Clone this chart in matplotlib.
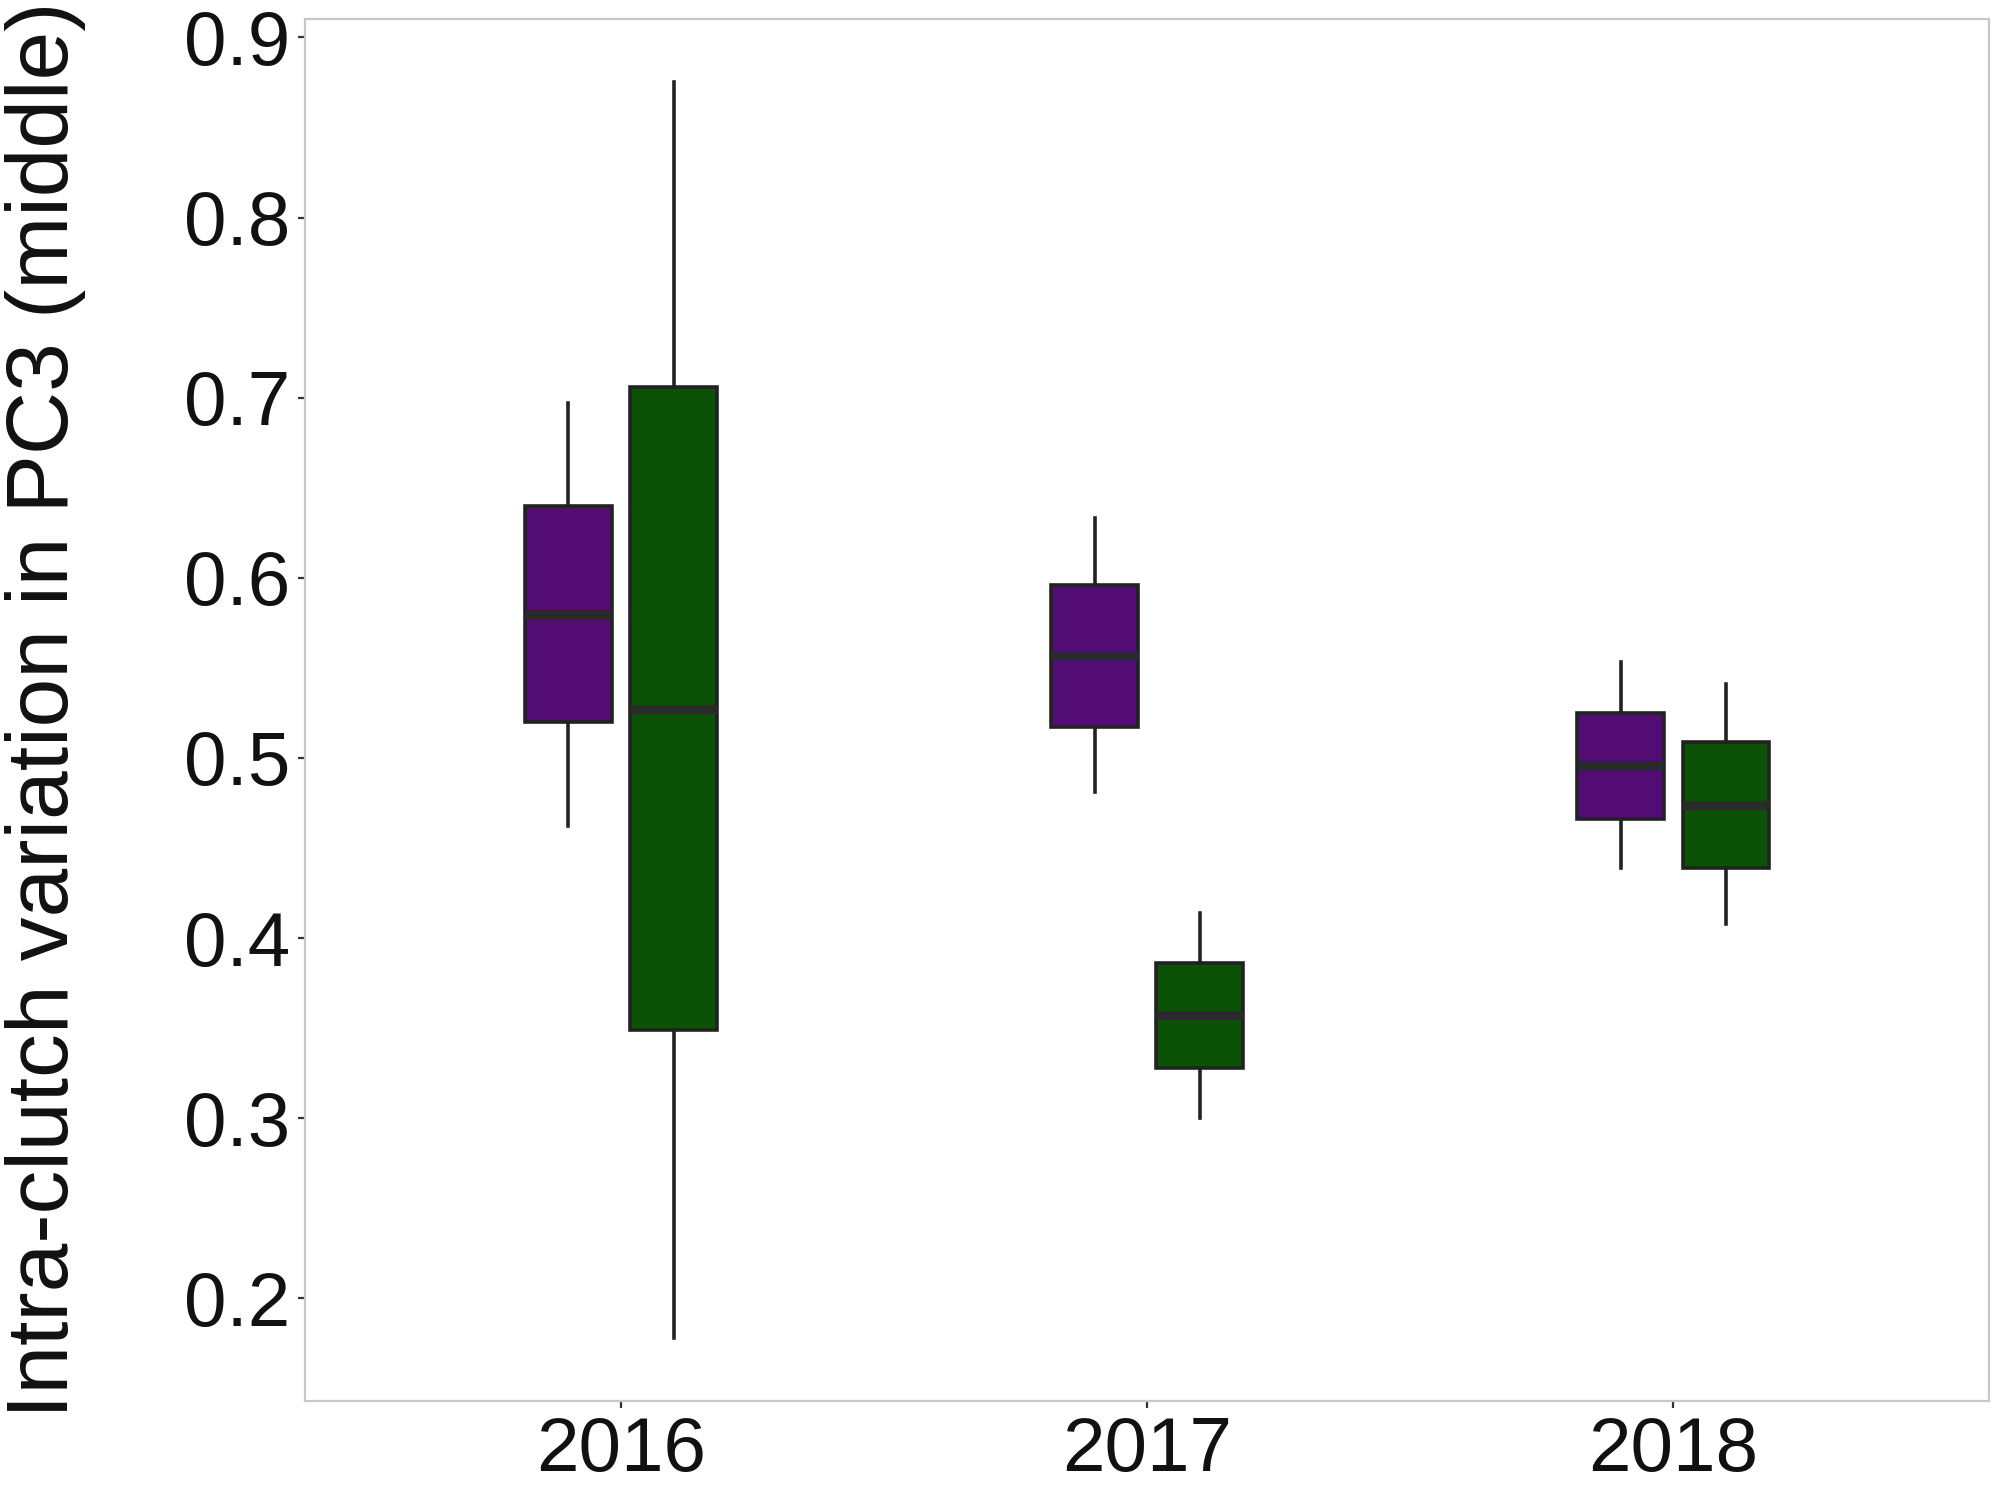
import matplotlib.pyplot as plt

years = ['2016', '2017', '2018']
group_colors = ['#520c74', '#0b5106']

# five-number summaries per year: (low whisker, Q1, median, Q3, high whisker)
purple_stats = [
    (0.462, 0.520, 0.580, 0.640, 0.697),
    (0.481, 0.517, 0.557, 0.596, 0.633),
    (0.439, 0.466, 0.496, 0.525, 0.553),
]
green_stats = [
    (0.178, 0.349, 0.527, 0.706, 0.875),
    (0.300, 0.328, 0.357, 0.386, 0.414),
    (0.408, 0.439, 0.474, 0.509, 0.541),
]


def to_bxp(rows):
    out = []
    for lo, q1, med, q3, hi in rows:
        out.append({'whislo': lo, 'q1': q1, 'med': med, 'q3': q3,
                    'whishi': hi, 'fliers': []})
    return out


def main():
    fig = plt.figure(figsize=(19.95, 14.91), dpi=100)
    ax = fig.add_axes([0.153, 0.0604, 0.844, 0.9266])

    base = list(range(1, len(years) + 1))
    offset = 0.1
    for i, rows in enumerate([purple_stats, green_stats]):
        pos = [b + (offset if i else -offset) for b in base]
        ax.bxp(to_bxp(rows), positions=pos, widths=0.165, showcaps=False,
               patch_artist=True, manage_ticks=False,
               boxprops=dict(facecolor=group_colors[i], edgecolor='#222222',
                             linewidth=2.6),
               whiskerprops=dict(color='#222222', linewidth=2.6),
               medianprops=dict(color='#2a2a2a', linewidth=6.5,
                                solid_capstyle='butt'))

    ax.set_xlim(0.4, 3.6)
    ax.set_ylim(0.143, 0.910)
    ax.set_xticks(base)
    ax.set_xticklabels(years)
    ax.set_yticks([0.2, 0.3, 0.4, 0.5, 0.6, 0.7, 0.8, 0.9])

    for s in ax.spines.values():
        s.set_color('#c8c8c8')
        s.set_linewidth(1.6)

    ax.tick_params(axis='both', length=5, width=1.6, color='#333333',
                   labelsize=55, labelcolor='#111111', pad=6)
    for lab in ax.get_xticklabels() + ax.get_yticklabels():
        lab.set_family('Liberation Sans')

    ax.set_ylabel('Intra-clutch variation in PC3 (middle)', fontsize=63,
                  family='Liberation Sans', color='#111111', labelpad=70)

    fig.savefig('out.png', dpi=100)


if __name__ == '__main__':
    main()
